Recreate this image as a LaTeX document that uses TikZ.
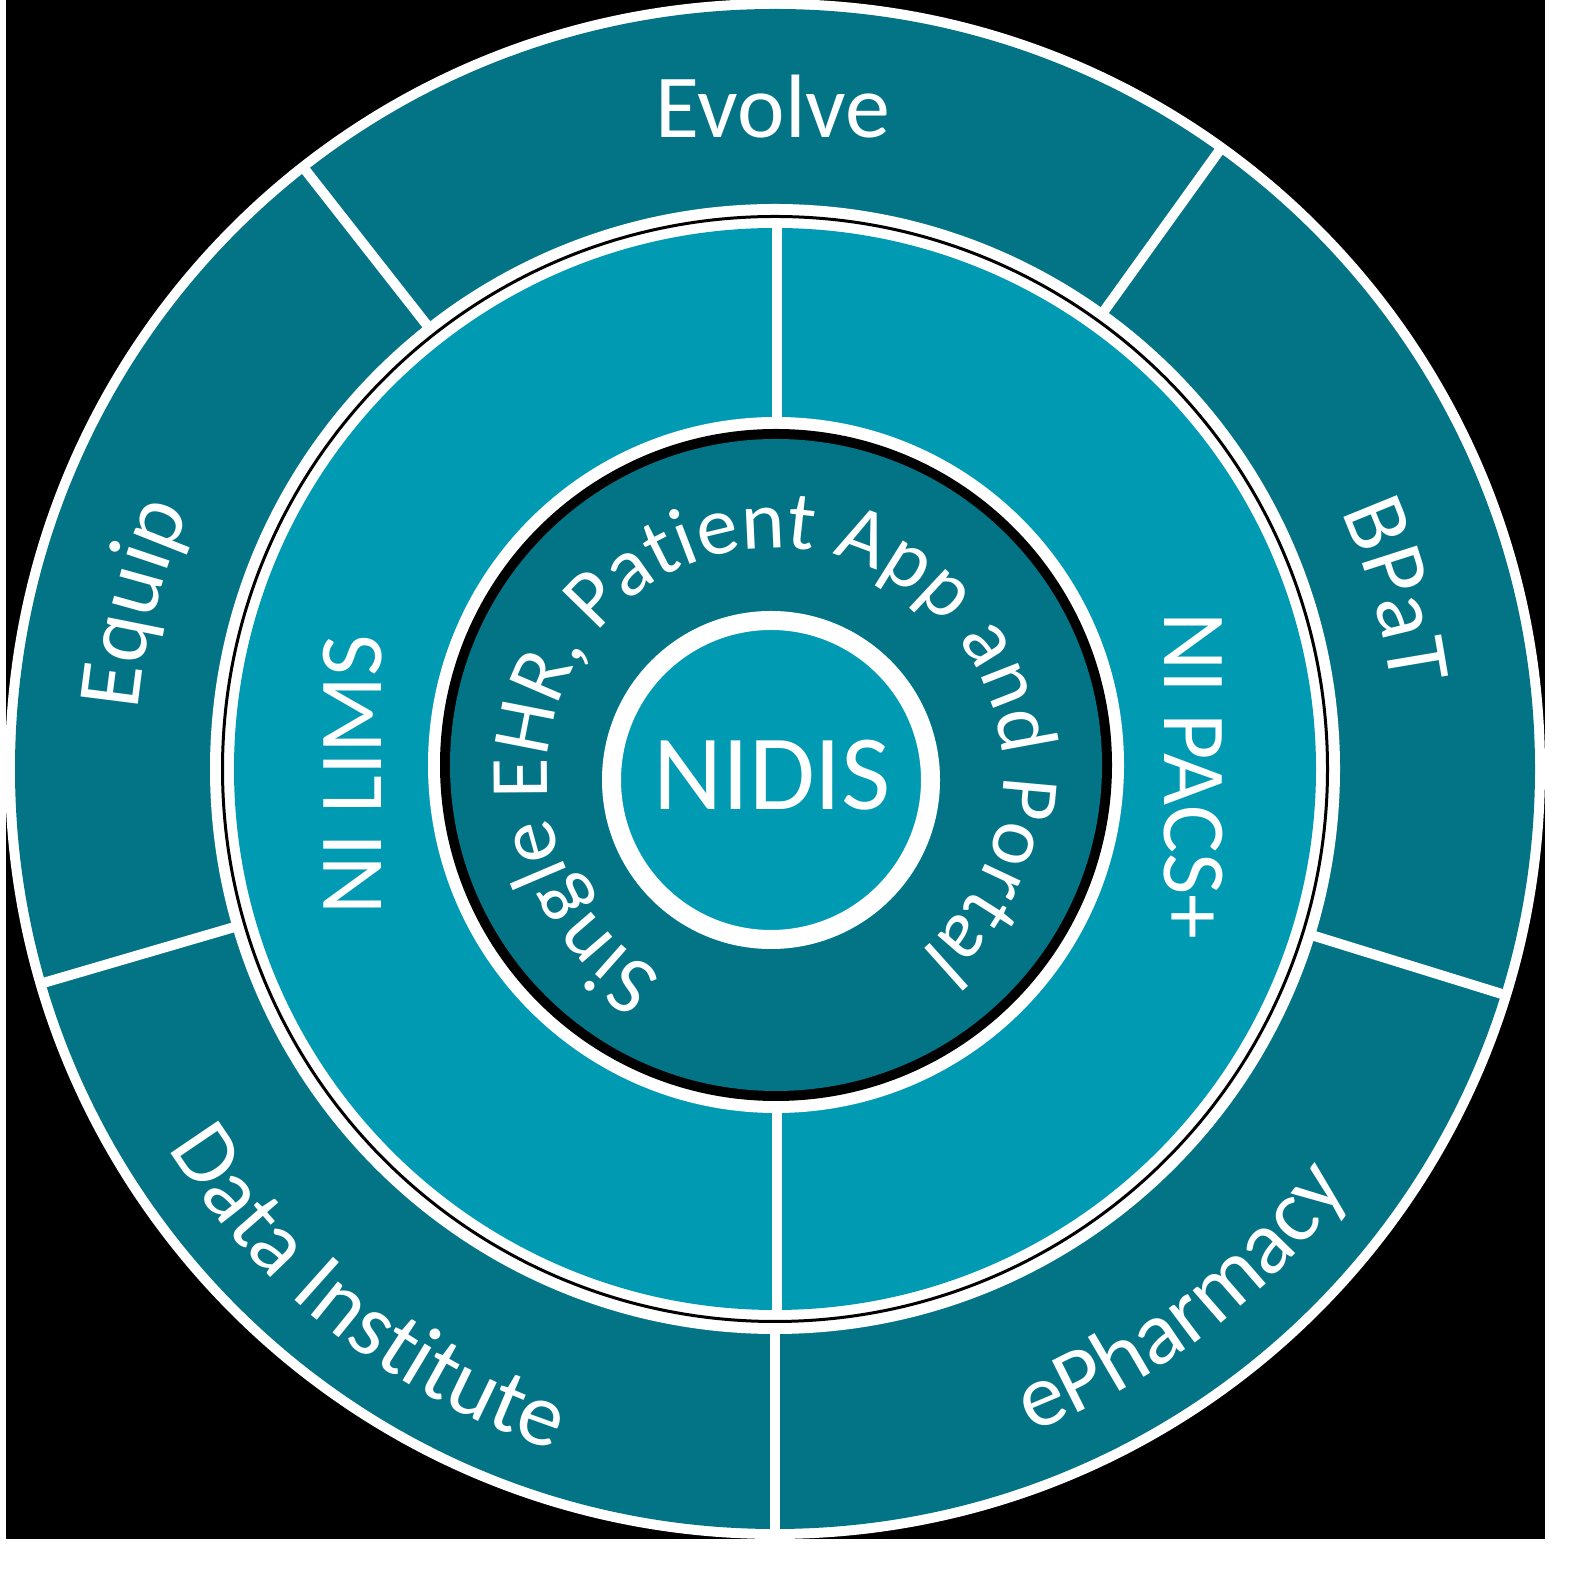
\documentclass[tikz,border=0pt]{standalone}
\usepackage{fontspec}
\setmainfont{Carlito}
\usetikzlibrary{decorations.text}
\definecolor{darkteal}{RGB}{2,116,134}
\definecolor{lightteal}{RGB}{0,154,179}
\begin{document}
\begin{tikzpicture}[x=1pt,y=1pt,
  sep/.style={white, line width=10pt},
  lbl/.style={text=white, inner sep=0pt},
  big/.style={font=\fontsize{90}{94}\selectfont},
]
\useasboundingbox (0,0) rectangle (1568,1573);
\fill[white] (0,0) rectangle (1568,1573);
\fill[black] (6,34) rectangle (1545,1573);
\coordinate (C) at (775,804);
\coordinate (Ci) at (776,808);
\coordinate (Ct) at (775,797);
\coordinate (Cn) at (771,793);
% outer ring
\fill[white] (C) circle[radius=770];
\fill[darkteal] (C) circle[radius=760];
\foreach \a in {54.3,128.1,196.3,270,342.8}
  \draw[sep] ([shift={(\a:545)}]C) -- ([shift={(\a:765)}]C);
% middle ring
\fill[white] (C) circle[radius=565];
\draw[black, line width=3pt] (C) circle[radius=552.5];
\fill[lightteal] (C) circle[radius=541];
\draw[sep] (777,255) -- (777,1350);
% inner disc
\fill[white] (Ci) circle[radius=348];
\fill[black] (Ci) circle[radius=336];
\fill[darkteal] (Ci) circle[radius=326];
% NIDIS circle
\fill[lightteal] (Cn) circle[radius=169];
\draw[white, line width=19pt] (Cn) circle[radius=159.5];
% straight labels
\node[lbl, font=\fontsize{107}{110}\selectfont, anchor=base] (nidis) at (772,763) {NIDIS};
\node[lbl, big, anchor=base] (evolve) at (773,1435) {Evolve};
\node[lbl, big, rotate=90] (lims) at (353,798) {NI LIMS};
\node[lbl, big, rotate=-90] (pacs) at (1193,797) {NI PACS+};
% curved labels
\path[decorate, decoration={text along path, text align=center,
  text={|\fontsize{83}{86}\selectfont\color{white}|Single EHR, Patient App and Portal}}]
  ([shift={(265:228)}]Ct) arc[start angle=265, end angle=-75, radius=228];
\path[decorate, decoration={text along path, text align=center,
  text={|\fontsize{90}{94}\selectfont\color{white}|Equip}}]
  ([shift={(195.5:640)}]C) arc[start angle=195.5, end angle=135.5, radius=640];
\path[decorate, decoration={text along path, text align=center,
  text={|\fontsize{90}{94}\selectfont\color{white}|BPaT}}]
  ([shift={(46:622)}]C) arc[start angle=46, end angle=-14, radius=622];
\path[decorate, decoration={text along path, text align=center,
  text={|\fontsize{90}{94}\selectfont\color{white}|Data Institute}}]
  ([shift={(197:716)}]C) arc[start angle=197, end angle=267, radius=716];
\path[decorate, decoration={text along path, text align=center,
  text={|\fontsize{90}{94}\selectfont\color{white}|ePharmacy}}]
  ([shift={(-82.5:711)}]C) arc[start angle=-82.5, end angle=-22.5, radius=711];
\end{tikzpicture}
\end{document}
